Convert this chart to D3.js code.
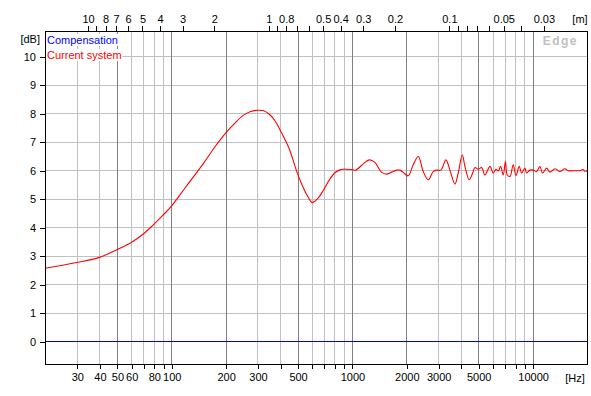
<!DOCTYPE html>
<html>
<head>
<meta charset="utf-8">
<script src="https://cdn.jsdelivr.net/npm/d3@7"></script>
<style>
body { margin:0; background:#fff; }
text { font-family: "Liberation Sans", Arial, sans-serif; font-size:11px; }
</style>
</head>
<body>
<div class="demo"></div>
<script>
// measured response (Hz / dB)
var freqs = [20,30,40,50,60,70,80,90,100,120,150,175,200,225,250,275,300,325,350,375,400,450,500,550,575,600,650,700,750,800,850,900,1000,1050,
  1155,1246,1340,1460,1556,1658,1768,1844,1922,2048,2183,2329,2481,2645,2819,2954,3109,3314,3486,3716,
  3876,4079,4221,4460,4657,4796,5000,5222,5445,5805,6054,6266,6452,6652,6877,7072,7237,7490,7812,8085,
  8433,8695,9064,9263,9661,10076,10520,10975,11359,11953,12465,13288,14159,15095,15744,17150,18280,18990,19480,20000];
var current = [2.56,2.76,2.94,3.21,3.46,3.76,4.1,4.42,4.73,5.4,6.22,6.83,7.3,7.65,7.92,8.06,8.1,8.08,7.95,7.73,7.41,6.74,5.87,5.25,5.03,4.86,5.02,5.33,5.66,5.89,6.0,6.03,6.02,6.0,
  6.22,6.36,6.27,5.92,5.86,5.93,6.0,6.0,5.92,5.8,6.19,6.48,5.95,5.66,5.95,6.0,6.0,6.36,6.0,5.51,
  5.9,6.54,6.13,5.66,5.9,6.09,6.03,6.09,5.83,6.13,5.9,6.03,5.97,6.13,5.83,6.3,5.83,5.78,6.19,5.81,
  6.13,5.9,6.07,5.9,6.0,6.0,5.95,6.13,5.9,6.07,5.93,6.05,5.95,6.05,5.98,5.98,5.98,6.02,5.96,5.98];
var compFreqs = [20,20000];
var compensation = [0,0];

var hzLabels = [30,40,50,60,80,100,200,300,500,1000,2000,3000,5000,10000];
var hzMinor = [70,90,400,600,700,800,900,4000,6000,7000,8000,9000];
var hzMajorGrid = [50,100,200,500,1000,2000,5000,10000];
var hzMinorGrid = [30,40,60,70,80,90,300,400,600,700,800,900,3000,4000,6000,7000,8000,9000];
var mLabels = [10,8,7,6,5,4,3,2,1,0.8,0.5,0.4,0.3,0.2,0.1,0.05,0.03];
var mMinor = [9,0.9,0.7,0.6,0.09,0.08,0.07,0.06,0.04];
var dbTicks = [0,1,2,3,4,5,6,7,8,9,10];
var soundSpeed = 344;

var w = 591, h = 396;
var padL = 45, padR = 587, padT = 31, padB = 364;

var svg = d3.select('.demo').append('svg').attr('width', w).attr('height', h);

var x = d3.scaleLog().domain([20, 20000]).range([padL, padR]);
var xm = d3.scaleLog().domain([soundSpeed/20, soundSpeed/20000]).range([padL, padR]);
var y = d3.scaleLinear().domain([-0.8, 10.88]).range([padB, padT]);

function px(v){ return Math.round(v) + 0.5; }

// grid
var grid = svg.append('g').attr('shape-rendering', 'crispEdges');
grid.selectAll('.hg').data(dbTicks.filter(function(d){ return d > 0; })).enter()
  .append('line')
  .attr('x1', padL).attr('x2', padR)
  .attr('y1', function(d){ return px(y(d)); }).attr('y2', function(d){ return px(y(d)); })
  .attr('stroke', '#c0c0c0');
grid.selectAll('.vg').data(hzMinorGrid).enter()
  .append('line')
  .attr('x1', function(d){ return px(x(d)); }).attr('x2', function(d){ return px(x(d)); })
  .attr('y1', padT).attr('y2', padB)
  .attr('stroke', '#c0c0c0');
grid.selectAll('.vG').data(hzMajorGrid).enter()
  .append('line')
  .attr('x1', function(d){ return px(x(d)); }).attr('x2', function(d){ return px(x(d)); })
  .attr('y1', padT).attr('y2', padB)
  .attr('stroke', '#808080');

// watermark
svg.append('text').text('Edge')
  .attr('x', 578).attr('y', 45).attr('text-anchor', 'end')
  .attr('fill', '#c0c0c0').style('font-weight', 'bold').style('font-size', '12px')
  .style('letter-spacing', '1.5px');

// curves
var line = d3.line()
  .x(function(d){ return x(d[0]); })
  .y(function(d){ return y(d[1]); });

svg.append('path').datum(d3.zip(compFreqs, compensation))
  .attr('d', line.curve(d3.curveLinear))
  .attr('fill', 'none').attr('stroke', '#0000d0').attr('shape-rendering', 'crispEdges')
  .attr('transform', 'translate(0,0.5)');

svg.append('path').datum(d3.zip(freqs, current))
  .attr('d', line.curve(d3.curveCatmullRom.alpha(0.5)))
  .attr('fill', 'none').attr('stroke', '#ff0000').attr('stroke-width', 1.1);

// axes
function styleAxis(g){
  g.select('.domain').remove();
  g.selectAll('line').attr('stroke', '#000').attr('shape-rendering', 'crispEdges');
  g.selectAll('text').attr('fill', '#000').style('font-size', '11px')
    .style('font-family', '"Liberation Sans", Arial, sans-serif');
}

var hzFmt = function(d){ return hzLabels.indexOf(d) >= 0 ? String(d) : ''; };
svg.append('g').attr('transform', 'translate(0.5,' + padB + ')')
  .call(d3.axisBottom(x).tickValues(hzLabels.concat(hzMinor)).tickFormat(hzFmt).tickSize(5).tickPadding(4))
  .call(styleAxis);

var mFmt = function(d){ return mLabels.indexOf(d) >= 0 ? String(d) : ''; };
svg.append('g').attr('transform', 'translate(0.5,' + padT + ')')
  .call(d3.axisTop(xm).tickValues(mLabels.concat(mMinor)).tickFormat(mFmt).tickSize(5).tickPadding(3))
  .call(styleAxis);

svg.append('g').attr('transform', 'translate(' + padL + ',0.5)')
  .call(d3.axisLeft(y).tickValues(dbTicks).tickFormat(d3.format('d')).tickSize(5).tickPadding(4))
  .call(styleAxis);

// frame
svg.append('rect').attr('x', padL + 0.5).attr('y', padT + 0.5)
  .attr('width', padR - padL).attr('height', padB - padT)
  .attr('fill', 'none').attr('stroke', '#000').attr('shape-rendering', 'crispEdges');

// unit labels
svg.append('text').text('[Hz]').attr('x', 575).attr('y', 382).attr('text-anchor', 'middle');
svg.append('text').text('[m]').attr('x', 580).attr('y', 23).attr('text-anchor', 'middle');
svg.append('text').text('[dB]').attr('x', 40).attr('y', 43).attr('text-anchor', 'end');

// legend, drawn over a white box so the grid does not show through
var legend = svg.append('g');
var names = ['Compensation', 'Current system'];
var colors = ['#0000ff', '#ff0000'];
names.forEach(function(n, i){
  var t = legend.append('text').text(n).attr('x', 47).attr('y', 44 + i*15).attr('fill', colors[i]);
  var bb = t.node().getBBox();
  legend.insert('rect', 'text').attr('x', 46).attr('y', bb.y).attr('width', bb.width + 2).attr('height', bb.height)
    .attr('fill', '#fff');
});
</script>
</body>
</html>
